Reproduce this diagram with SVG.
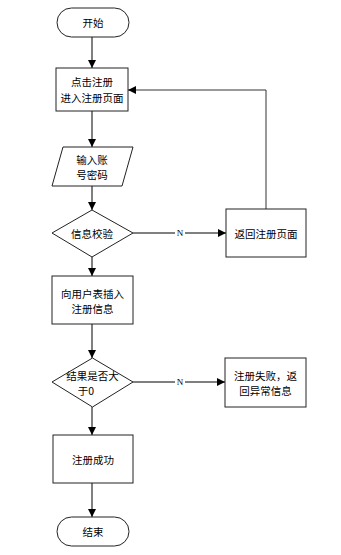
<svg xmlns="http://www.w3.org/2000/svg" width="341" height="555" viewBox="0 0 341 555">
<defs>
<marker id="ah" viewBox="0 0 10 10" refX="10" refY="5" markerWidth="8" markerHeight="8" markerUnits="userSpaceOnUse" orient="auto">
<path d="M0,0 L10,5 L0,10 z" fill="#000"/>
</marker>
<style>
.s{fill:#fff;stroke:#222;stroke-width:1}
.t{font-family:"Noto Sans CJK SC","Noto Sans",sans-serif;font-size:10.5px;fill:#000;text-anchor:middle;dominant-baseline:central}
.c{fill:none;stroke:#000;stroke-width:1;marker-end:url(#ah)}
.l{font-family:"Liberation Serif",serif;font-size:9px;fill:#000;text-anchor:middle;dominant-baseline:central}
</style>
</defs>
<rect width="341" height="555" fill="#fff"/>
<g id="connectors">
<path class="c" d="M92,37 V68"/>
<path class="c" d="M92,111 V147"/>
<path class="c" d="M92,186 V210"/>
<path class="c" d="M133,233 H226"/>
<path class="c" d="M266,209 V90 H128" style="stroke:#333"/>
<path class="c" d="M92,257 V276"/>
<path class="c" d="M92,324 V358"/>
<path class="c" d="M133,382 H225"/>
<path class="c" d="M92,407 V435"/>
<path class="c" d="M92,483 V517"/>
<rect x="175" y="228" width="10" height="10" fill="#fff"/>
<text class="l" x="180" y="233">N</text>
<rect x="175" y="377" width="10" height="10" fill="#fff"/>
<text class="l" x="180" y="382">N</text>
</g>
<g id="start">
<rect class="s" x="57" y="8" width="72" height="29" rx="14.5"/>
<text class="t" x="93" y="22.5">开始</text>
</g>
<g id="register">
<rect class="s" x="56" y="68" width="72" height="43"/>
<text class="t" x="92" y="81.5">点击注册</text>
<text class="t" x="92" y="97">进入注册页面</text>
</g>
<g id="input">
<polygon class="s" points="63,147 133,147 122,186 52,186"/>
<text class="t" x="92" y="159">输入账</text>
<text class="t" x="92" y="174.5">号密码</text>
</g>
<g id="check">
<polygon class="s" points="92,210 133,233 92,257 52,233"/>
<text class="t" x="92" y="233">信息校验</text>
</g>
<g id="back">
<rect class="s" x="226" y="209" width="80" height="48"/>
<text class="t" x="266" y="233">返回注册页面</text>
</g>
<g id="insert">
<rect class="s" x="52" y="276" width="81" height="48"/>
<text class="t" x="92.5" y="293">向用户表插入</text>
<text class="t" x="92.5" y="308.5">注册信息</text>
</g>
<g id="result">
<polygon class="s" points="92.5,358 133,382 92.5,407 52,382"/>
<text class="t" x="92.5" y="375">结果是否大</text>
<text class="t" x="86" y="390.5">于0</text>
</g>
<g id="fail">
<rect class="s" x="225" y="358" width="81" height="49"/>
<text class="t" x="265.5" y="375">注册失败，返</text>
<text class="t" x="265.5" y="390.5">回异常信息</text>
</g>
<g id="success">
<rect class="s" x="53" y="435" width="80" height="48"/>
<text class="t" x="93" y="459">注册成功</text>
</g>
<g id="end">
<rect class="s" x="57" y="517" width="72" height="29" rx="14.5"/>
<text class="t" x="93" y="531.5">结束</text>
</g>
</svg>
